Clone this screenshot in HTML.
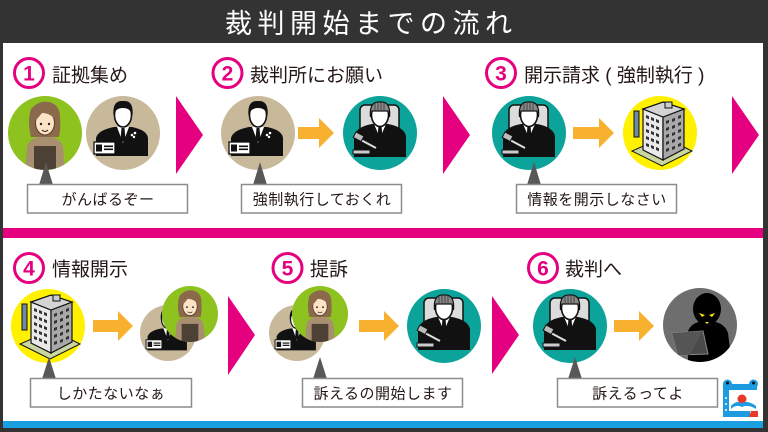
<!DOCTYPE html>
<html><head><meta charset="utf-8">
<style>
html,body{margin:0;padding:0;background:#fff;}
svg{display:block;}
text{font-family:"Liberation Sans","Noto Sans CJK JP",sans-serif;}
</style></head>
<body>
<svg width="768" height="432" viewBox="0 0 768 432" xmlns="http://www.w3.org/2000/svg">
<defs>
  <clipPath id="cc"><circle r="37"/></clipPath>
  <g id="man">
    <circle r="37" fill="#c9b99b"/>
    <g clip-path="url(#cc)">
      <path d="M-27,23 L-27,5 Q-25,-3 -9,-6 L9,-6 Q24,-3 25,5 L25,23 Z" fill="#111"/>
      <path d="M-6,-6 L0,10 L6,-6 Z" fill="#fff"/>
      <path d="M-1.5,-5 L1.5,-5 L2.5,6 L0,9 L-2.5,6 Z" fill="#111"/>
      <circle cx="9" cy="2" r="1.3" fill="#fff"/><circle cx="12" cy="0" r="1.3" fill="#fff"/><circle cx="11" cy="4" r="1.2" fill="#fff"/>
      <ellipse cx="0" cy="-18" rx="8.5" ry="12" fill="#fff" stroke="#111" stroke-width="1.6"/>
      <path d="M-9.5,-17 Q-11,-33 0,-32 Q11,-33 9.5,-17 Q8,-25 0,-25 Q-8,-25 -9.5,-17 Z" fill="#111"/>
      <rect x="-29" y="9" width="21" height="12" fill="#fff" stroke="#111" stroke-width="1.3"/>
      <rect x="-27" y="11.5" width="6" height="7" fill="#111"/>
      <rect x="-19" y="12.5" width="9" height="1.6" fill="#111"/>
      <rect x="-19" y="15.5" width="9" height="1.6" fill="#111"/>
    </g>
  </g>
  <g id="woman">
    <circle r="37" fill="#8dc21f"/>
    <g clip-path="url(#cc)">
      <path d="M-20,40 L-18,14 Q-16,6 -6,4 L6,4 Q16,6 18,14 L20,40 Z" fill="#a88f70"/>
      <path d="M-11,40 L-11,13 L11,13 L11,40 Z" fill="#4d4035"/>
      <path d="M-14,4 Q-18,-12 -14,-24 Q-6,-33 4,-31 Q16,-28 15,-14 Q16,-4 14,4 Z" fill="#8b6a4b"/>
      <ellipse cx="0" cy="-10" rx="9.5" ry="12" fill="#fde3c6" stroke="#5a3d2a" stroke-width="1"/>
      <path d="M-10,-12 Q-10,-27 3,-25 Q13,-24 11,-12 Q6,-20 -3,-20 Q-6,-16 -10,-12 Z" fill="#8b6a4b"/>
      <circle cx="-4" cy="-9" r="1.2" fill="#222"/><circle cx="4" cy="-9" r="1.2" fill="#222"/>
      <path d="M-3,-3 Q0,0 3,-3" stroke="#222" stroke-width="1" fill="none"/>
    </g>
  </g>
  <g id="judge">
    <circle r="37" fill="#0ca39a"/>
    <g clip-path="url(#cc)">
      <rect x="-20" y="-28" width="39" height="50" rx="5" fill="#dcdcdc" stroke="#111" stroke-width="1.5"/>
      <path d="M-26,24 L-26,3 Q-24,-6 -8,-9 L8,-9 Q24,-6 26,3 L26,24 Z" fill="#111"/>
      <path d="M-6,-9 L0,5 L6,-9 Z" fill="#fff"/>
      <path d="M-1.5,-8 L1.5,-8 L2.3,3 L0,5 L-2.3,3 Z" fill="#111"/>
      <ellipse cx="0" cy="-18" rx="8.5" ry="11.5" fill="#fff" stroke="#111" stroke-width="1.6"/>
      <path d="M-9.5,-16 Q-11,-32 0,-31 Q11,-32 9.5,-16 L8,-22 L-8,-22 Z" fill="#8a8a8a" stroke="#111" stroke-width="1.2"/>
      <path d="M-5,-30 L-5,-23 M-2,-31 L-2,-23 M1,-31 L1,-23 M4,-30 L4,-23" stroke="#333" stroke-width="0.8"/>
      <line x1="-4" y1="15" x2="-19" y2="7" stroke="#ddd" stroke-width="2"/>
      <rect x="-26" y="1" width="9" height="6" fill="#bbb" stroke="#111" transform="rotate(28 -21 4)"/>
      <rect x="-27" y="17" width="17" height="4" fill="#ccc" stroke="#111"/>
    </g>
  </g>
  <g id="bldg">
    <circle r="37" fill="#fff100"/>
    <path d="M-28,18 L2,33 L32,18 L4,4 Z" fill="#c9d6a0" stroke="#111" stroke-width="1"/>
    <rect x="-26" y="-22" width="5" height="26" fill="#6f8aa8" stroke="#111" stroke-width="1"/>
    <path d="M-17,-24 L3,-16 L3,27 L-17,17 Z" fill="#e9e9e9" stroke="#111" stroke-width="1.2"/>
    <path d="M3,-16 L24,-24 L24,16 L3,27 Z" fill="#a8a8a8" stroke="#111" stroke-width="1.2"/>
    <path d="M-17,-24 L3,-31 L24,-24 L3,-16 Z" fill="#d4d4d4" stroke="#111" stroke-width="1.2"/>
    <rect x="5" y="-31" width="7" height="6" fill="#ccc" stroke="#111" stroke-width="1"/>
    <g fill="#333">
      <path d="M-14,-18 l3,1.2 v3 l-3,-1.2z M-9,-16 l3,1.2 v3 l-3,-1.2z M-4,-14 l3,1.2 v3 l-3,-1.2z"/>
      <path d="M-14,-11 l3,1.2 v3 l-3,-1.2z M-9,-9 l3,1.2 v3 l-3,-1.2z M-4,-7 l3,1.2 v3 l-3,-1.2z"/>
      <path d="M-14,-4 l3,1.2 v3 l-3,-1.2z M-9,-2 l3,1.2 v3 l-3,-1.2z M-4,0 l3,1.2 v3 l-3,-1.2z"/>
      <path d="M-14,3 l3,1.2 v3 l-3,-1.2z M-9,5 l3,1.2 v3 l-3,-1.2z M-4,7 l3,1.2 v3 l-3,-1.2z"/>
      <path d="M-14,10 l3,1.2 v3 l-3,-1.2z M-9,12 l3,1.2 v3 l-3,-1.2z M-4,14 l3,1.2 v3 l-3,-1.2z"/>
      <path d="M6,-12 l3,-1.2 v3 l-3,1.2z M12,-14 l3,-1.2 v3 l-3,1.2z M18,-17 l3,-1.2 v3 l-3,1.2z"/>
      <path d="M6,-5 l3,-1.2 v3 l-3,1.2z M12,-7 l3,-1.2 v3 l-3,1.2z M18,-10 l3,-1.2 v3 l-3,1.2z"/>
      <path d="M6,2 l3,-1.2 v3 l-3,1.2z M12,0 l3,-1.2 v3 l-3,1.2z M18,-3 l3,-1.2 v3 l-3,1.2z"/>
      <path d="M6,9 l3,-1.2 v3 l-3,1.2z M12,7 l3,-1.2 v3 l-3,1.2z M18,4 l3,-1.2 v3 l-3,1.2z"/>
      <path d="M6,16 l3,-1.2 v3 l-3,1.2z M12,14 l3,-1.2 v3 l-3,1.2z M18,11 l3,-1.2 v3 l-3,1.2z"/>
    </g>
  </g>
  <g id="hacker">
    <circle r="37" fill="#6e6e6e"/>
    <g clip-path="url(#cc)">
      <path d="M-12,40 L-12,6 Q-8,-4 7,-4 Q24,-4 28,8 L32,40 Z" fill="#000"/>
      <ellipse cx="7" cy="-16" rx="14" ry="16" fill="#000"/>
      <path d="M-1,-12 L5,-10 L2,-8 Z M15,-12 L9,-10 L12,-8 Z" fill="#ffe600"/>
      <path d="M5,-3 L9,-3 L7,-1 Z" fill="#ffe600"/>
      <path d="M-28,8 L3,6 L8,29 L-22,30 Z" fill="#4a4a4a" stroke="#8a8a8a" stroke-width="1"/>
      <path d="M-28,8 L3,6 L-10,30 L-22,30 Z" fill="#555"/>
    </g>
  </g>
</defs>

<!-- frame -->
<rect x="0" y="0" width="768" height="432" fill="#333333"/>
<rect x="3" y="43" width="760" height="385" fill="#ffffff"/>
<rect x="3" y="228" width="760" height="10" fill="#e4007f"/>
<rect x="3" y="421" width="760" height="7" fill="#1a9fe0"/>

<!-- title -->
<text x="225" y="33" font-size="27" fill="#ffffff" letter-spacing="5.5">裁判開始までの流れ</text>

<!-- number circles -->
<g fill="none" stroke="#e4007f" stroke-width="3">
  <circle cx="29" cy="73" r="14.5"/>
  <circle cx="227.5" cy="73" r="14.5"/>
  <circle cx="501" cy="73" r="14.5"/>
  <circle cx="29" cy="268" r="14.5"/>
  <circle cx="287.5" cy="268" r="14.5"/>
  <circle cx="543" cy="268" r="14.5"/>
</g>
<g fill="#e4007f" font-size="21" font-weight="bold" text-anchor="middle">
  <text x="29" y="80.5">1</text>
  <text x="227.5" y="80.5">2</text>
  <text x="501" y="80.5">3</text>
  <text x="29" y="275.5">4</text>
  <text x="287.5" y="275.5">5</text>
  <text x="543" y="275.5">6</text>
</g>

<!-- headings -->
<g fill="#231815" font-size="19">
  <text x="52" y="81.5">証拠集め</text>
  <text x="250" y="81.5">裁判所にお願い</text>
  <text x="524" y="81.5">開示請求 ( 強制執行 )</text>
  <text x="52" y="275.5">情報開示</text>
  <text x="310" y="275.5">提訴</text>
  <text x="565" y="275.5">裁判へ</text>
</g>

<!-- pink chevrons -->
<g fill="#e4007f">
  <polygon points="176,96 176,174 203,135"/>
  <polygon points="443,96 443,174 470,135"/>
  <polygon points="732,96 732,174 759,135"/>
  <polygon points="228,296 228,375 255,335"/>
  <polygon points="492,296 492,374 519,335"/>
</g>

<!-- orange arrows -->
<g fill="#f7b12e">
  <rect x="298" y="127" width="22" height="12"/><polygon points="319,118 334,133 319,148"/>
  <rect x="573" y="127" width="27" height="12"/><polygon points="599,118 614,133 599,148"/>
  <rect x="93" y="320" width="27" height="12"/><polygon points="118,311 133,326 118,341"/>
  <rect x="359" y="320" width="27" height="12"/><polygon points="384,311 399,326 384,341"/>
  <rect x="614" y="320" width="27" height="12"/><polygon points="639,311 654,326 639,341"/>
</g>

<!-- row 1 icons -->
<use href="#woman" transform="translate(45,133)"/>
<use href="#man" transform="translate(123,133)"/>
<use href="#man" transform="translate(258,133)"/>
<use href="#judge" transform="translate(380,133)"/>
<use href="#judge" transform="translate(529,133)"/>
<use href="#bldg" transform="translate(660,133)"/>

<!-- row 2 icons -->
<use href="#bldg" transform="translate(48,326)"/>
<use href="#man" transform="translate(168,333) scale(0.757)"/>
<use href="#woman" transform="translate(190,314) scale(0.757)"/>
<use href="#man" transform="translate(297,333) scale(0.757)"/>
<use href="#woman" transform="translate(320,314) scale(0.757)"/>
<use href="#judge" transform="translate(444,326)"/>
<use href="#judge" transform="translate(570,326)"/>
<use href="#hacker" transform="translate(700,325)"/>

<!-- speech pointers -->
<g fill="#595757">
  <polygon points="39,185 53,185 46,162"/>
  <polygon points="253,185 267,185 260,162"/>
  <polygon points="527,185 541,185 534,162"/>
  <polygon points="42,379 56,379 49,357"/>
  <polygon points="313,379 327,379 320,357"/>
  <polygon points="568,379 582,379 575,357"/>
</g>

<!-- speech boxes -->
<g fill="#ffffff" stroke="#8c8c8c" stroke-width="1.5">
  <rect x="27.5" y="184.5" width="160" height="28.5"/>
  <rect x="241.5" y="184.5" width="160" height="28.5"/>
  <rect x="516.5" y="184.5" width="160" height="28.5"/>
  <rect x="30.5" y="378.5" width="161" height="28.5"/>
  <rect x="302.5" y="378.5" width="160" height="28.5"/>
  <rect x="557.5" y="378.5" width="160" height="28.5"/>
</g>
<g fill="#231815" font-size="15" text-anchor="middle" letter-spacing="0.5">
  <text x="108" y="204.5">がんばるぞー</text>
  <text x="322" y="204.5">強制執行しておくれ</text>
  <text x="597" y="204.5">情報を開示しなさい</text>
  <text x="111" y="398.5">しかたないなぁ</text>
  <text x="383" y="398.5">訴えるの開始します</text>
  <text x="638" y="398.5">訴えるってよ</text>
</g>

<!-- logo -->
<g>
  <rect x="723" y="384" width="34" height="6" fill="#1e9be0"/>
  <circle cx="727.5" cy="384" r="4.5" fill="#1e9be0"/>
  <circle cx="753.5" cy="384" r="4.5" fill="#1e9be0"/>
  <circle cx="727.5" cy="383" r="1.5" fill="#111"/>
  <circle cx="753.5" cy="383" r="1.5" fill="#111"/>
  <rect x="723" y="390" width="6" height="27" fill="#1e9be0"/>
  <circle cx="726" cy="398" r="1" fill="#fff"/><circle cx="726" cy="404" r="1" fill="#fff"/><circle cx="726" cy="410" r="1" fill="#fff"/>
  <circle cx="742" cy="399" r="4.5" fill="#e83828"/>
  <path d="M731,406 Q736,400 742,403 Q748,400 756,406 L756,409 Q748,404 742,407 Q736,404 731,409 Z" fill="#1e9be0"/>
  <rect x="729" y="411" width="21" height="6" fill="#1e9be0"/>
  <polygon points="751,411 758,411 758,417 749,417" fill="#e83828"/>
</g>
</svg>
</body></html>
